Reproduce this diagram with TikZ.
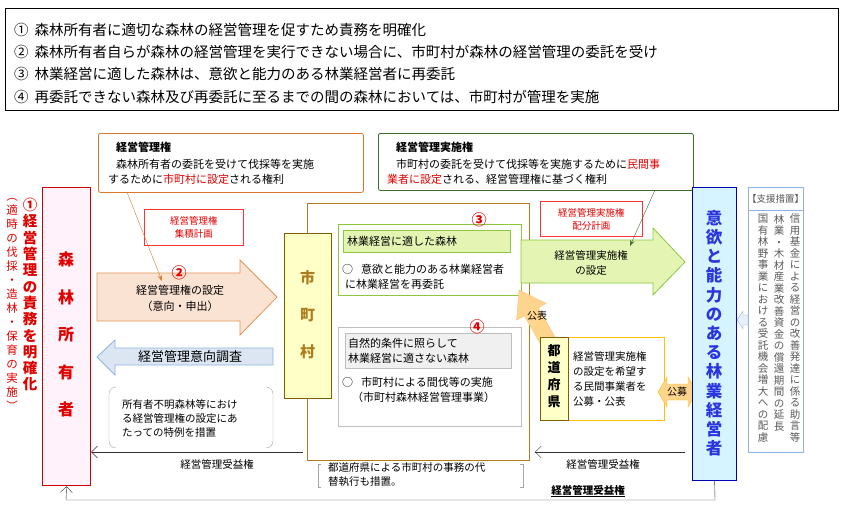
\documentclass[tikz,border=0pt]{standalone}
\usepackage{fontspec}
\setmainfont{Noto Sans CJK JP}
\usetikzlibrary{arrows.meta}
\definecolor{ored}{HTML}{E00000}
\definecolor{oline}{HTML}{D9792B}
\definecolor{ofill}{HTML}{FBE3D3}
\definecolor{bfill}{HTML}{DCE6F2}
\definecolor{bline}{HTML}{8EB4E3}
\definecolor{gline}{HTML}{8DC63F}
\definecolor{gfill}{HTML}{E4F5B3}
\definecolor{dgreen}{HTML}{3E6B2E}
\definecolor{brown}{HTML}{B07D1E}
\definecolor{dbrown}{HTML}{7F6000}
\definecolor{yfill}{HTML}{FFFFC8}
\definecolor{pfill}{HTML}{FFF2FA}
\definecolor{cfill}{HTML}{D6F4FF}
\definecolor{bluet}{HTML}{2A35E0}
\definecolor{gold}{HTML}{FFC000}
\definecolor{pubfill}{HTML}{FFD48C}
\tikzset{
 txt/.style={inner sep=0pt, font=\fontsize{11}{15}\selectfont},
 vtxt/.style={inner sep=0pt, align=center, anchor=north},
 redbox/.style={draw=red!80, thick, align=center, font=\fontsize{9.5}{13}\selectfont\color{ored}},
}
\begin{document}
\begin{tikzpicture}[x=1pt,y=-1pt]
\useasboundingbox (0,0) rectangle (851,522);
% top box
\node[draw, thick, minimum width=833pt, minimum height=102pt, anchor=north west] (top) at (5,8) {};
\begin{scope}[every node/.style={anchor=west, inner sep=0pt, font=\fontsize{14.5}{16}\selectfont}]
\node (t1) at (14,30) {①\hspace{6pt}森林所有者に適切な森林の経営管理を促すため責務を明確化};
\node (t2) at (14,52) {②\hspace{6pt}森林所有者自らが森林の経営管理を実行できない場合に、市町村が森林の経営管理の委託を受け};
\node (t3) at (14,74) {③\hspace{6pt}林業経営に適した森林は、意欲と能力のある林業経営者に再委託};
\node (t4) at (14,97) {④\hspace{6pt}再委託できない森林及び再委託に至るまでの間の森林においては、市町村が管理を実施};
\end{scope}

% owner box
\node[draw=red!80!black, very thick, fill=pfill, minimum width=48pt, minimum height=298pt, anchor=north west] (owner) at (42,187) {};
\node[vtxt, font=\fontsize{16}{37.5}\selectfont\bfseries\color{ored}] (ownert) at (66,252) {森\\林\\所\\有\\者};
\node[vtxt, font=\fontsize{14.5}{16.3}\selectfont\bfseries\color{ored}] (resp) at (30,198) {①\\経\\営\\管\\理\\の\\責\\務\\を\\明\\確\\化};
\node[vtxt, font=\fontsize{11.5}{14}\selectfont\color{ored}] (resp2) at (12,198) {︵\\適\\時\\の\\伐\\採\\・\\造\\林\\・\\保\\育\\の\\実\\施\\︶};

% orange box
\node[draw=oline, thick, rounded corners=2pt, minimum width=265pt, minimum height=59pt, anchor=north west] (obox) at (98,133) {};
\node[txt, anchor=west, font=\fontsize{11}{15}\selectfont\bfseries] (otitle) at (116,147) {経営管理権};
\node[txt, anchor=west] (ol1) at (116,164) {森林所有者の委託を受けて伐採等を実施};
\node[txt, anchor=west] (ol2) at (108,179) {するために\textcolor{ored}{市町村に設定}される権利};
\node[redbox, minimum width=99pt, minimum height=36pt, anchor=north west] (plan1) at (144,209) {経営管理権\\集積計画};

% orange arrow
\draw[draw=oline!80, fill=ofill, thick] (97,273) -- (240,273) -- (240,260) -- (277,297) -- (240,335) -- (240,321) -- (97,321) -- cycle;
\node[txt, font=\fontsize{15}{15}\selectfont\bfseries\color{ored}] (c2) at (179,273) {②};
\node[txt, align=center, font=\fontsize{11}{16}\selectfont] (set) at (180,298) {経営管理権の設定\\（意向・申出）};
\coordinate (oa) at (127,192);
\coordinate (ob) at (162,281);
\draw[oline, -{Stealth[length=6pt]}] (oa) -- (ob);

% blue arrow
\draw[draw=bline, fill=bfill, thick] (97,357) -- (115,340) -- (115,348) -- (273,348) -- (273,365) -- (115,365) -- (115,375) -- cycle;
\node[txt, font=\fontsize{13}{15}\selectfont] (survey) at (190,357) {経営管理意向調査};

% bracket note 1
\draw[gray!70] (116,387) to[out=180,in=90] (109,394) -- (109,441) to[out=-90,in=180] (116,448);
\draw[gray!70] (266,387) to[out=0,in=90] (273,394) -- (273,441) to[out=-90,in=0] (266,448);
\node[txt, anchor=west, align=left, font=\fontsize{10.5}{14}\selectfont] (special) at (122,418) {所有者不明森林等におけ\\る経営管理権の設定にあ\\たっての特例を措置};

% benefit left
\coordinate (bl1) at (303,452);
\draw[gray!40!black, -{Straight Barb[length=6pt]}] (bl1) -- (owner.east |- bl1);
\node[txt, font=\fontsize{10.5}{14}\selectfont] (ben1) at (217,464) {経営管理受益権};

% big brown box
\node[draw=brown, thick, minimum width=222pt, minimum height=257pt, anchor=north west] (muni) at (307,203) {};
\node[draw=dbrown, very thick, fill=yfill, minimum width=47pt, minimum height=165pt, anchor=north west] (city) at (284,233) {};
\node[vtxt, font=\fontsize{15}{37}\selectfont\bfseries\color{brown}] (cityt) at (307.5,270) {市\\町\\村};

% green box 3
\node[draw=gline, thick, minimum width=183pt, minimum height=71pt, anchor=north west] (g3) at (338,224) {};
\node[draw=gline, thick, fill=gfill, minimum width=167pt, minimum height=22pt, anchor=north west] (g3t) at (343,230) {};
\node[txt, anchor=west] (g3tt) at (347,241) {林業経営に適した森林};
\node[txt, anchor=west, align=left] (g3b) at (342,277) {○\hspace{8pt}意欲と能力のある林業経営者\\\hspace{3pt}に林業経営を再委託};
\node[txt, font=\fontsize{15}{15}\selectfont\bfseries\color{ored}] (c3) at (479,220) {③};

% grey box 4
\node[draw=gray!50, thick, minimum width=183pt, minimum height=99pt, anchor=north west] (g4) at (338,327) {};
\node[draw=gray!50, thick, fill=gray!12, minimum width=166pt, minimum height=35pt, anchor=north west] (g4t) at (345,333) {};
\node[txt, anchor=west, align=left] (g4tt) at (348,351) {自然的条件に照らして\\林業経営に適さない森林};
\node[txt, anchor=west, align=left] (g4b) at (342,390) {○\hspace{8pt}市町村による間伐等の実施\\\hspace{10pt}（市町村森林経営管理事業）};
\node[txt, font=\fontsize{15}{15}\selectfont\bfseries\color{ored}] (c4) at (477,327) {④};

% bracket note 2
\draw[gray!70] (321,464) -- (318,464) -- (318,487) -- (321,487);
\draw[gray!70] (520,464) -- (523,464) -- (523,487) -- (520,487);
\node[txt, anchor=west, align=left, font=\fontsize{10.5}{14}\selectfont] (subst) at (328,475) {都道府県による市町村の事務の代\\替執行も措置。};

% green top box
\node[draw=dgreen, thick, rounded corners=2pt, minimum width=315pt, minimum height=57pt, anchor=north west] (gbox) at (378,133) {};
\node[txt, anchor=west, font=\fontsize{11}{15}\selectfont\bfseries] (gtitle) at (396,147) {経営管理実施権};
\node[txt, anchor=west] (gl1) at (396,164) {市町村の委託を受けて伐採等を実施するために\textcolor{ored}{民間事}};
\node[txt, anchor=west] (gl2) at (387,179) {\textcolor{ored}{業者に設定}される、経営管理権に基づく権利};
\node[redbox, minimum width=102pt, minimum height=35pt, anchor=north west] (plan2) at (540,201) {経営管理実施権\\配分計画};

% green arrow
\draw[draw=gline, fill=gfill, thick] (521,240) -- (653,240) -- (653,228) -- (685,262) -- (653,295) -- (653,283) -- (521,283) -- cycle;
\node[txt, align=center, font=\fontsize{10.5}{15}\selectfont] (set2) at (591,263) {経営管理実施権\\の設定};
\coordinate (ga) at (655,190);
\coordinate (gb) at (630,246);
\draw[dgreen, -{Stealth[length=6pt]}] (ga) -- (gb);

% publish arrow
\draw[draw=pubfill!80!orange, fill=pubfill] (558.96,344.04) -- (538.4,307.8) -- (546.2,303.4) -- (519,290) -- (516.6,320.2) -- (524.4,315.8) -- (545.04,351.96) -- cycle;
\node[txt, font=\fontsize{10}{12}\selectfont] (pub) at (537,316) {公表};

% prefecture
\node[draw=gold, thick, fill=white, minimum width=124pt, minimum height=83pt, anchor=north west] (pref) at (540,337) {};
\node[draw=dbrown, thick, fill=yfill, minimum width=28pt, minimum height=83pt, anchor=north west] (prefl) at (540,337) {};
\node[vtxt, font=\fontsize{13}{17}\selectfont\bfseries] (preft) at (554,344) {都\\道\\府\\県};
\node[txt, anchor=west, align=left, font=\fontsize{10.5}{15.3}\selectfont] (prefb) at (573,379) {経営管理実施権\\の設定を希望す\\る民間事業者を\\公募・公表};

% koubo double arrow
\draw[draw=gold, fill=pubfill] (658,392) -- (667,377) -- (667,384) -- (688,384) -- (688,377) -- (697,392) -- (688,407) -- (688,400) -- (667,400) -- (667,407) -- cycle;
\node[txt, font=\fontsize{10}{12}\selectfont] (koubo) at (677,392) {公募};

% blue box
\node[draw=blue!70!black, very thick, fill=cfill, minimum width=44pt, minimum height=293pt, anchor=north west] (mgr) at (692,187) {};
\node[vtxt, font=\fontsize{16.5}{19.2}\selectfont\bfseries\color{bluet}] (mgrt) at (714,210) {意\\欲\\と\\能\\力\\の\\あ\\る\\林\\業\\経\\営\\者};

% support
\node[draw=bline, minimum width=55pt, minimum height=265pt, anchor=north west] (sup) at (748,187) {};
\node[draw=bline, minimum width=55pt, minimum height=23pt, anchor=north west] (suph) at (748,187) {};
\node[txt, font=\fontsize{9.5}{12}\selectfont\color{gray!70!black}] (supt) at (775.5,198.5) {【支援措置】};
\begin{scope}[every node/.style={vtxt, font=\fontsize{10.5}{11.5}\selectfont\color{gray!70!black}}]
\node (s1) at (795,214) {信\\用\\基\\金\\に\\よ\\る\\経\\営\\の\\改\\善\\発\\達\\に\\係\\る\\助\\言\\等};
\node (s2) at (779,214) {林\\業\\・\\木\\材\\産\\業\\改\\善\\資\\金\\の\\償\\還\\期\\間\\の\\延\\長};
\node (s3) at (763,214) {国\\有\\林\\野\\事\\業\\に\\お\\け\\る\\受\\託\\機\\会\\増\\大\\へ\\の\\配\\慮};
\end{scope}
\draw[draw=bline, fill=bfill!60] (737,320) -- (743,311) -- (743,315) -- (748,315) -- (748,325) -- (743,325) -- (743,329) -- cycle;

% benefit right
\coordinate (br1) at (685,452);
\coordinate (br2) at (535,452);
\draw[gray!40!black, -{Straight Barb[length=6pt]}] (br1) -- (br2);
\node[txt, font=\fontsize{10.5}{14}\selectfont] (ben2) at (603,464) {経営管理受益権};

% bottom loop
\coordinate (lp1) at (715,500);
\coordinate (lp2) at (66,500);
\draw[gray!40!black, -{Straight Barb[length=6pt]}] (mgr.south) -- (lp1) -- (lp2) -- (owner.south);
\node[txt, font=\fontsize{10.5}{14}\selectfont\bfseries] (ben3) at (588,491) {\underline{経営管理受益権}};
\end{tikzpicture}
\end{document}
